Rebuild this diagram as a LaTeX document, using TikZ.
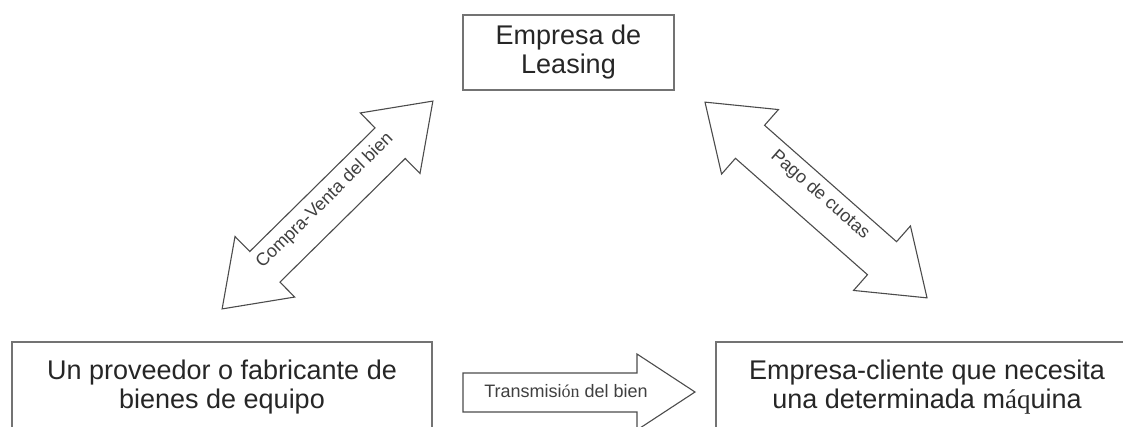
\documentclass[tikz,border=0pt]{standalone}
\usepackage{fontspec}
\setmainfont{Liberation Sans}
\newfontfamily\glyphserif{Liberation Serif}
\begin{document}
\begin{tikzpicture}[x=1pt,y=-1pt,
  box/.style={draw=black!55, line width=1.4pt, align=center, inner sep=0pt,
    font=\fontsize{27}{29}\selectfont, text=black!85},
  blockarrow/.style={draw=black!70, line width=1.1pt, fill=white, line join=miter},
  arrowlabel/.style={font=\fontsize{18}{20}\selectfont, text=black!75, inner sep=0pt}]
\useasboundingbox (0,0) rectangle (1123,427);
\clip (0,0) rectangle (1123,427);

% the three parties
\node[box, minimum width=211pt, minimum height=75pt] (leasing) at (568.5,52.5)
  {Empresa de\\Leasing};
\node[box, minimum width=420pt, minimum height=90pt] (proveedor) at (222,387)
  {Un proveedor o fabricante de\\bienes de equipo};
\node[box, minimum width=422pt, minimum height=90pt] (cliente) at (927,387)
  {Empresa-cliente que necesita\\una determinada m{\glyphserif áq}uina};

% double block arrow: supplier <-> leasing company
\begin{scope}[shift={(327.5,205)}, rotate=44.6]
  \draw[blockarrow] (-148,0) -- (-88,42.5) -- (-88,21.5) -- (88,21.5) -- (88,42.5)
    -- (148,0) -- (88,-42.5) -- (88,-21.5) -- (-88,-21.5) -- (-88,-42.5) -- cycle;
\end{scope}
\node[arrowlabel, rotate=44.6] (compraventa) at (325,201) {Compra-Venta del bien};

% double block arrow: leasing company <-> client
\begin{scope}[shift={(816,200)}, rotate=-41.4]
  \draw[blockarrow] (-148,0) -- (-88,43) -- (-88,22) -- (88,22) -- (88,43)
    -- (148,0) -- (88,-43) -- (88,-22) -- (-88,-22) -- (-88,-43) -- cycle;
\end{scope}
\node[arrowlabel, rotate=-41.4] (pago) at (820,195) {Pago de cuotas};

% block arrow: supplier -> client
\draw[blockarrow] (463,373) -- (637,373) -- (637,354) -- (695,392) -- (637,430)
  -- (637,412) -- (463,412) -- cycle;
\node[arrowlabel] (transmision) at (566,391) {Transmisi{\glyphserif ón} del bien};
\end{tikzpicture}
\end{document}
